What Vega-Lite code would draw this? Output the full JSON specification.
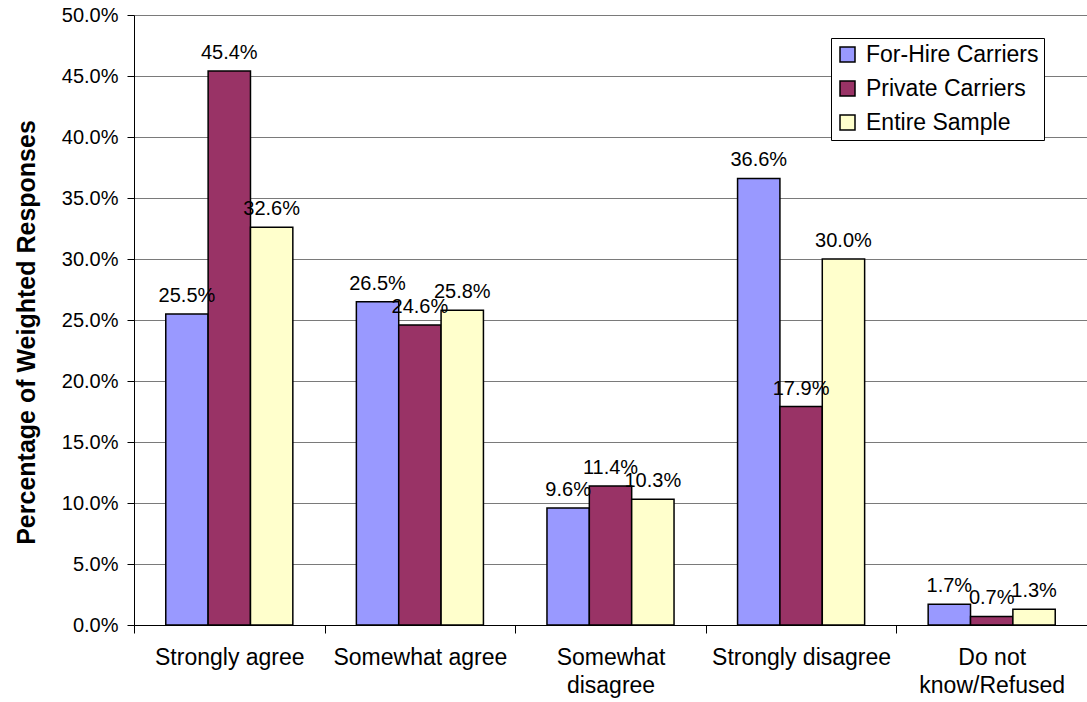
{
  "$schema": "https://vega.github.io/schema/vega-lite/v6.json",
  "width": 953,
  "height": 610,
  "autosize": {"type": "none"},
  "padding": {"left": 134, "top": 15, "right": 0, "bottom": 77},
  "background": "white",
  "config": {
    "view": {"stroke": null},
    "font": "Liberation Sans",
    "axis": {"labelFont": "Liberation Sans", "titleFont": "Liberation Sans", "labelColor": "#000", "titleColor": "#000"},
    "legend": {"labelFont": "Liberation Sans"}
  },
  "data": {
    "values": [
      {"category": "Strongly agree", "series": "For-Hire Carriers", "value": 0.255},
      {"category": "Strongly agree", "series": "Private Carriers", "value": 0.454},
      {"category": "Strongly agree", "series": "Entire Sample", "value": 0.326},
      {"category": "Somewhat agree", "series": "For-Hire Carriers", "value": 0.265},
      {"category": "Somewhat agree", "series": "Private Carriers", "value": 0.246},
      {"category": "Somewhat agree", "series": "Entire Sample", "value": 0.258},
      {"category": "Somewhat disagree", "series": "For-Hire Carriers", "value": 0.096},
      {"category": "Somewhat disagree", "series": "Private Carriers", "value": 0.114},
      {"category": "Somewhat disagree", "series": "Entire Sample", "value": 0.103},
      {"category": "Strongly disagree", "series": "For-Hire Carriers", "value": 0.366},
      {"category": "Strongly disagree", "series": "Private Carriers", "value": 0.179},
      {"category": "Strongly disagree", "series": "Entire Sample", "value": 0.300},
      {"category": "Do not know/Refused", "series": "For-Hire Carriers", "value": 0.017},
      {"category": "Do not know/Refused", "series": "Private Carriers", "value": 0.007},
      {"category": "Do not know/Refused", "series": "Entire Sample", "value": 0.013}
    ]
  },
  "encoding": {
    "x": {
      "field": "category",
      "type": "nominal",
      "sort": ["Strongly agree", "Somewhat agree", "Somewhat disagree", "Strongly disagree", "Do not know/Refused"],
      "scale": {"paddingInner": 0, "paddingOuter": 0},
      "axis": {
        "title": null,
        "labelAngle": 0,
        "labelFontSize": 23,
        "labelPadding": 13,
        "labelLineHeight": 28,
        "labelExpr": "datum.label == 'Somewhat disagree' ? ['Somewhat', 'disagree'] : datum.label == 'Do not know/Refused' ? ['Do not', 'know/Refused'] : datum.label",
        "tickBand": "extent",
        "tickSize": 8,
        "tickColor": "#000",
        "domainColor": "#000",
        "labelLimit": 300
      }
    },
    "xOffset": {
      "field": "series",
      "sort": ["For-Hire Carriers", "Private Carriers", "Entire Sample"],
      "scale": {"paddingInner": 0, "paddingOuter": 0.75}
    },
    "y": {
      "field": "value",
      "type": "quantitative",
      "scale": {"domain": [0, 0.5], "nice": false},
      "axis": {
        "values": [0, 0.05, 0.1, 0.15, 0.2, 0.25, 0.3, 0.35, 0.4, 0.45, 0.5],
        "format": ".1%",
        "title": "Percentage of Weighted Responses",
        "titleFontSize": 25,
        "titleFontWeight": "bold",
        "titlePadding": 22,
        "titleY": 317,
        "labelFontSize": 20,
        "labelPadding": 9,
        "tickSize": 7,
        "tickColor": "#000",
        "domainColor": "#000",
        "grid": true,
        "gridColor": "#7a7a7a"
      }
    }
  },
  "layer": [
    {
      "mark": {"type": "bar", "stroke": "#000", "strokeWidth": 1.5},
      "encoding": {
        "color": {
          "field": "series",
          "type": "nominal",
          "sort": ["For-Hire Carriers", "Private Carriers", "Entire Sample"],
          "scale": {"domain": ["For-Hire Carriers", "Private Carriers", "Entire Sample"], "range": ["#9999FF", "#993366", "#FFFFCC"]},
          "legend": {
            "title": null,
            "orient": "none",
            "legendX": 697,
            "legendY": 23,
            "fillColor": "white",
            "strokeColor": "#000",
            "padding": 5,
            "labelFontSize": 23,
            "labelColor": "#000",
            "labelLimit": 400,
            "labelOffset": 7,
            "rowPadding": 10,
            "symbolType": "square",
            "symbolSize": 225,
            "symbolStrokeColor": "#000",
            "symbolStrokeWidth": 1.5,
            "symbolOpacity": 1
          }
        }
      }
    },
    {
      "mark": {"type": "text", "baseline": "alphabetic", "dy": -12, "fontSize": 20, "color": "#000"},
      "encoding": {
        "text": {"field": "value", "type": "quantitative", "format": ".1%"}
      }
    }
  ]
}
